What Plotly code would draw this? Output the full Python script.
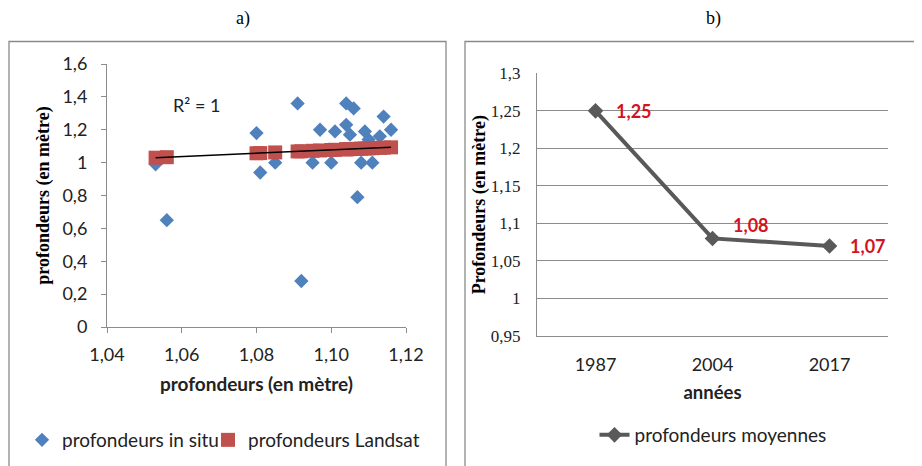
import numpy as np
import plotly.graph_objects as go

# ---- data: panel a) ----
landsat_x = [1.053, 1.056, 1.080, 1.081, 1.085, 1.091, 1.092, 1.095, 1.097, 1.100, 1.101, 1.104,
             1.104, 1.106, 1.105, 1.107, 1.108, 1.109, 1.111, 1.114, 1.116, 1.113, 1.110]
insitu_y = [0.99, 0.65, 1.18, 0.94, 1.00, 1.36, 0.28, 1.00, 1.20, 1.00, 1.19, 1.23,
            1.36, 1.33, 1.17, 0.79, 1.00, 1.19, 1.00, 1.28, 1.20, 1.16, 1.14]
landsat_y = [1.030, 1.033, 1.057, 1.058, 1.062, 1.068, 1.069, 1.072, 1.074, 1.077, 1.078, 1.081,
             1.081, 1.083, 1.082, 1.084, 1.085, 1.086, 1.088, 1.091, 1.093, 1.090, 1.087]
r2_label = "R² = 1"

# ---- data: panel b) ----
years = ["1987", "2004", "2017"]
mean_depth = [1.25, 1.08, 1.07]
mean_labels = ["1,25", "1,08", "1,07"]

# page offset of the plot div (browser body margin)
OX, OY = 8, 8
W, H = 922 - OX, 466 - OY
def px(x):
    return (x - OX) / W
def py(y):
    return 1 - (y - OY) / H

SANS = "Lato"
SERIF = "Liberation Serif"
GRAY_AX = "#8c8c8c"

fig = go.Figure()

fig.add_trace(go.Scatter(
    x=landsat_x, y=insitu_y, mode="markers", name="profondeurs in situ",
    marker=dict(symbol="diamond", size=11, color="#4F81BD"),
    xaxis="x", yaxis="y", legend="legend"))
fig.add_trace(go.Scatter(
    x=landsat_x, y=landsat_y, mode="markers", name="profondeurs Landsat",
    marker=dict(symbol="square", size=14, color="#C0504D"),
    xaxis="x", yaxis="y", legend="legend3"))

# linear trend line of the Landsat series
coef = np.polyfit(landsat_x, landsat_y, 1)
tx = np.array([min(landsat_x), max(landsat_x)])
fig.add_trace(go.Scatter(
    x=tx, y=np.polyval(coef, tx), mode="lines", showlegend=False,
    line=dict(color="black", width=1.5), xaxis="x", yaxis="y", hoverinfo="skip"))

fig.add_trace(go.Scatter(
    x=years, y=mean_depth, mode="lines+markers", name="profondeurs moyennes",
    line=dict(color="#595959", width=4),
    marker=dict(symbol="diamond", size=12, color="#595959"),
    xaxis="x2", yaxis="y2", legend="legend2"))

ann = []
ann.append(dict(x=1.064, y=1.35, xref="x", yref="y", text=r2_label, showarrow=False,
                font=dict(family=SANS, size=18, color="#222")))
shifts = [(18, 0), (18, 13), (18, 0)]
for i, (v, lab, (dx, dy)) in enumerate(zip(mean_depth, mean_labels, shifts)):
    ann.append(dict(x=i, y=v, xref="x2", yref="y2", text="<b>%s</b>" % lab, showarrow=False,
                    xanchor="left", yanchor="middle", xshift=dx, yshift=dy,
                    font=dict(family=SANS, size=18, color="#D2141E")))
ann.append(dict(x=px(243), y=py(18), xref="paper", yref="paper", text="a)", showarrow=False,
                xanchor="center", yanchor="middle",
                font=dict(family=SERIF, size=18, color="black")))
ann.append(dict(x=px(713), y=py(18), xref="paper", yref="paper", text="b)", showarrow=False,
                xanchor="center", yanchor="middle",
                font=dict(family=SERIF, size=18, color="black")))

shapes = [
    dict(type="rect", xref="paper", yref="paper", x0=px(9), x1=px(446), y0=-0.05, y1=py(41.5),
         line=dict(color="#8a8a8a", width=1.3), fillcolor="rgba(0,0,0,0)"),
    dict(type="rect", xref="paper", yref="paper", x0=px(465), x1=px(921.5), y0=-0.05, y1=py(41.5),
         line=dict(color="#8a8a8a", width=1.3), fillcolor="rgba(0,0,0,0)"),
]

leg_common = dict(orientation="h", yanchor="middle", xanchor="left",
                  font=dict(family=SANS, size=19, color="#222"), bgcolor="rgba(0,0,0,0)",
                  itemsizing="trace")

fig.update_layout(
    width=W, height=H, margin=dict(l=0, r=0, t=0, b=0, pad=0, autoexpand=False),
    paper_bgcolor="white", plot_bgcolor="white",
    separators=", ",
    font=dict(family=SANS, size=16, color="#222"),
    annotations=ann, shapes=shapes,
    xaxis=dict(domain=[px(107), px(406)], range=[1.04, 1.12], dtick=0.02, tick0=1.04,
               tickformat=".2f", showgrid=False, zeroline=False, showline=True, automargin=False,
               linecolor=GRAY_AX, linewidth=1, ticks="outside", ticklen=5, tickcolor=GRAY_AX,
               ticklabelstandoff=6,
               tickfont=dict(family=SANS, size=18, color="#222"),
               title=dict(text="<b>profondeurs (en mètre)</b>", standoff=14,
                          font=dict(family=SANS, size=19, color="#222")),
               anchor="y"),
    yaxis=dict(domain=[py(327), py(64)], range=[0, 1.6], dtick=0.2, showgrid=False,
               zeroline=False, showline=True, linecolor=GRAY_AX, linewidth=1, automargin=False,
               ticks="outside", ticklen=5, tickcolor=GRAY_AX, ticklabelstandoff=10,
               tickfont=dict(family=SANS, size=18, color="#222"),
               title=dict(text="<b>profondeurs (en mètre)</b>", standoff=8,
                          font=dict(family=SERIF, size=18, color="black")),
               anchor="x"),
    xaxis2=dict(domain=[px(537), px(888)], type="category", range=[-0.5, 2.5],
                showgrid=False, zeroline=False, showline=True, linecolor=GRAY_AX, linewidth=1,
                ticks="", automargin=False, ticklabelstandoff=12,
                tickfont=dict(family=SANS, size=18, color="#222"),
                title=dict(text="<b>années</b>", standoff=12,
                           font=dict(family=SANS, size=18.5, color="#222")),
                anchor="y2"),
    yaxis2=dict(domain=[py(336), py(73.3)], range=[0.95, 1.3], dtick=0.05, tick0=0.95,
                showgrid=True, gridcolor=GRAY_AX, gridwidth=1, zeroline=False, automargin=False,
                showline=True, linecolor=GRAY_AX, linewidth=1, ticks="", ticklabelstandoff=12,
                tickfont=dict(family=SERIF, size=17, color="#222"),
                title=dict(text="<b>Profondeurs (en mètre)</b>", standoff=0,
                           font=dict(family=SERIF, size=18, color="black")),
                anchor="x2"),
    legend=dict(x=px(22), y=py(440), **leg_common),
    legend3=dict(x=px(208), y=py(440), **leg_common),
    legend2=dict(orientation="h", x=px(713), y=py(435), xanchor="center", yanchor="middle",
                 font=dict(family=SANS, size=19, color="#222"), bgcolor="rgba(0,0,0,0)"),
)

fig.write_html("out.html")
